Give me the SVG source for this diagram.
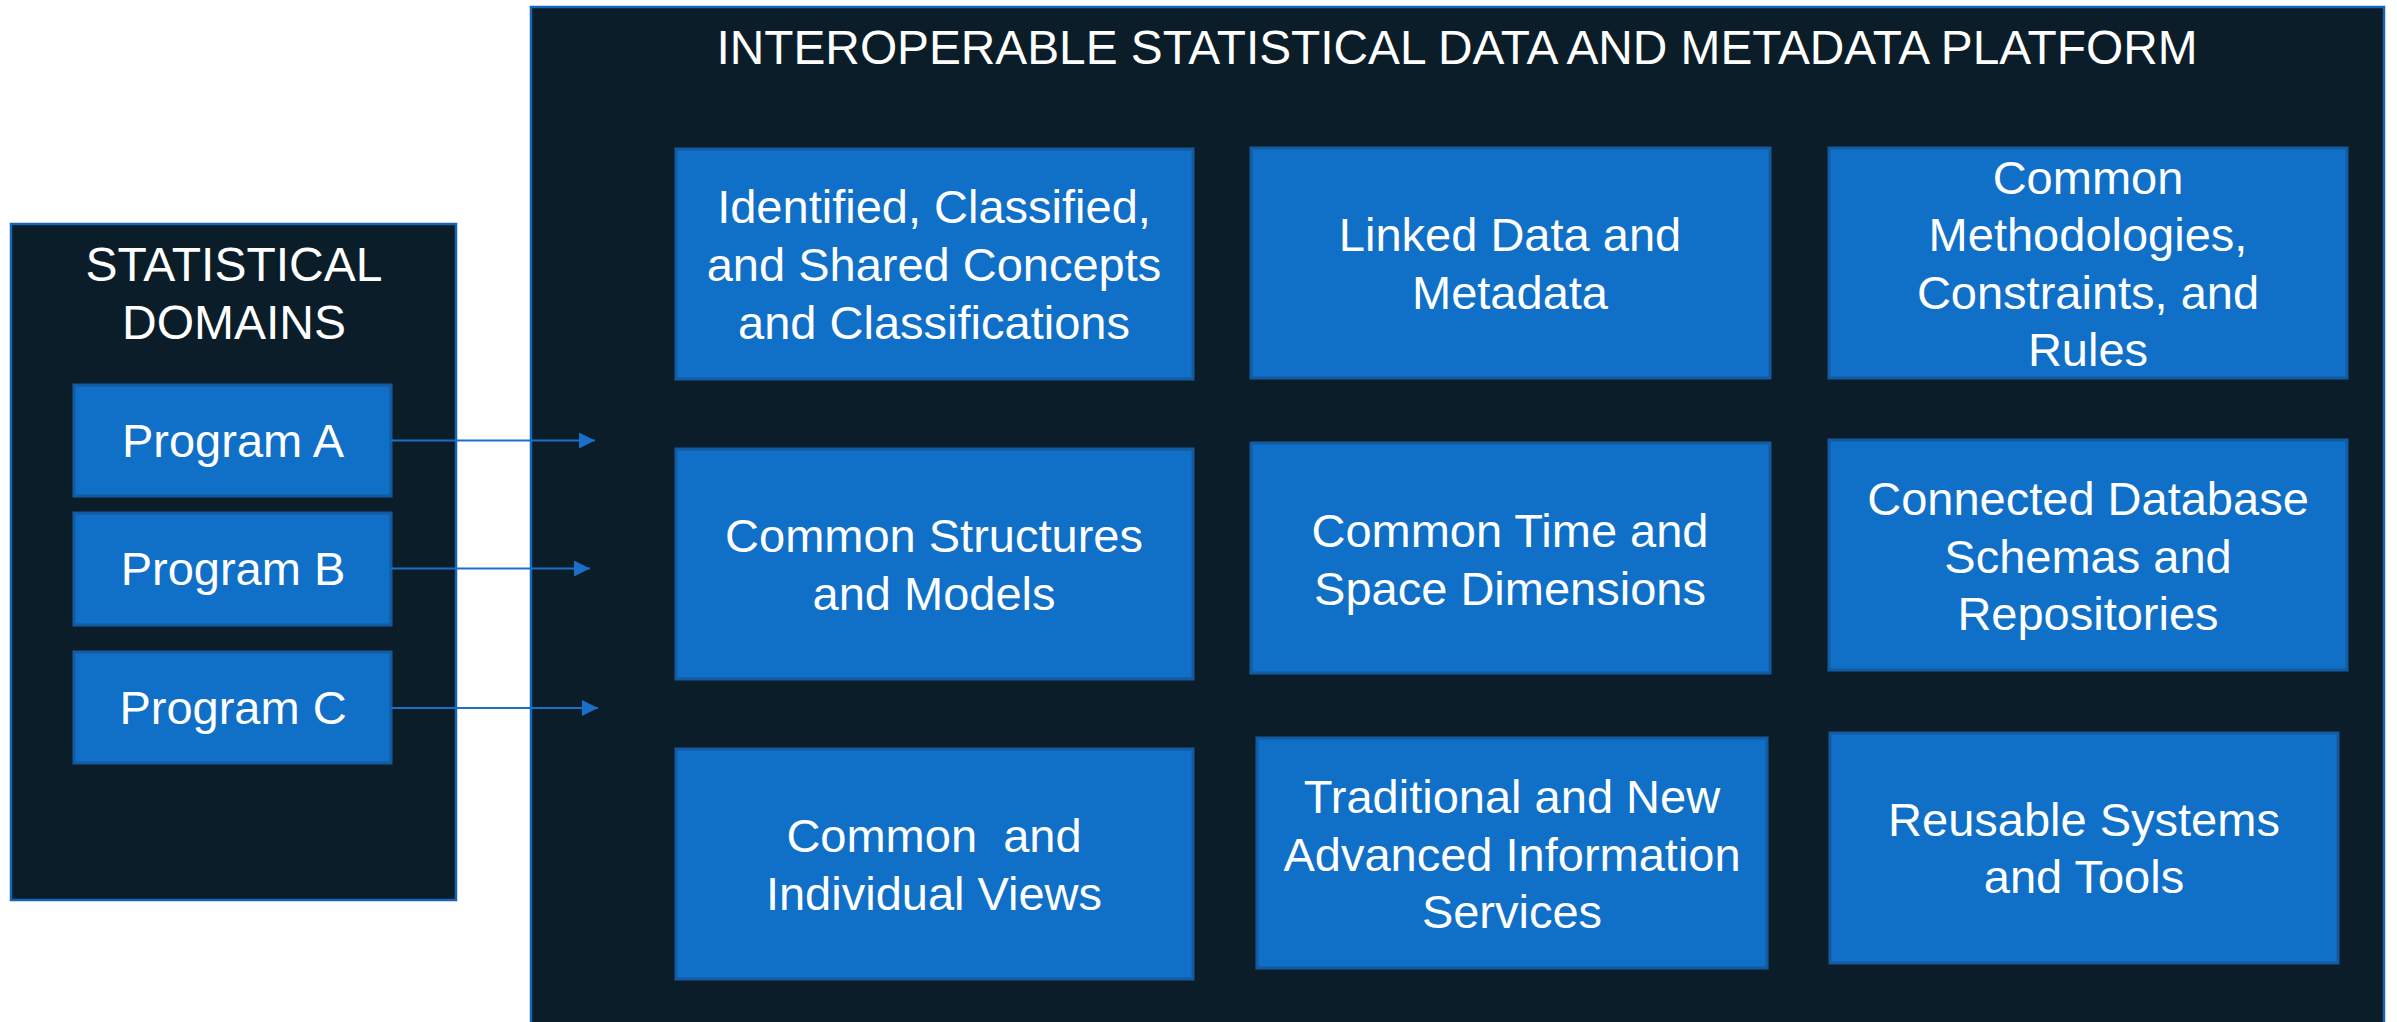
<svg xmlns="http://www.w3.org/2000/svg" width="2397" height="1022" viewBox="0 0 2397 1022">
<defs>
<style>
.frame{fill:#0a1d29;stroke:#1565b8;stroke-width:2.5}
.box{fill:#1070c8;stroke:#145aa0;stroke-width:3}
.t{font-family:"Liberation Sans",Arial,sans-serif;fill:#ffffff;text-anchor:middle}
.bt{font-size:47px}
.conn{stroke:#1a6fc8;stroke-width:2.2;fill:none}
</style>
<marker id="ah" viewBox="0 0 16 16" refX="16" refY="8" markerWidth="16" markerHeight="16" markerUnits="userSpaceOnUse" orient="auto">
<path d="M0,0 L16,8 L0,16 Z" fill="#1a6fc8"/>
</marker>
</defs>
<rect width="2397" height="1022" fill="#ffffff"/>
<g id="domains">
<rect class="frame" x="11" y="224" width="445" height="676"/>
<text class="t" x="234" y="281" font-size="48">STATISTICAL</text>
<text class="t" x="234" y="339" font-size="48">DOMAINS</text>
</g>
<g id="platform">
<rect class="frame" x="531" y="7" width="1853" height="1030"/>
<text class="t" x="1457" y="64" font-size="48" textLength="1481" lengthAdjust="spacingAndGlyphs">INTEROPERABLE STATISTICAL DATA AND METADATA PLATFORM</text>
</g>
<g id="programA">
<rect class="box" x="74" y="385" width="317" height="111"/>
<text class="t bt" x="233" y="457">Program A</text>
</g>
<g id="programB">
<rect class="box" x="74" y="513" width="317" height="112"/>
<text class="t bt" x="233" y="585">Program B</text>
</g>
<g id="programC">
<rect class="box" x="74" y="652" width="317" height="111"/>
<text class="t bt" x="233" y="724">Program C</text>
</g>
<g id="connectors">
<line class="conn" x1="391" y1="440.5" x2="595" y2="440.5" marker-end="url(#ah)"/>
<line class="conn" x1="391" y1="568.5" x2="590" y2="568.5" marker-end="url(#ah)"/>
<line class="conn" x1="391" y1="708" x2="598" y2="708" marker-end="url(#ah)"/>
</g>
<g id="concepts">
<rect class="box" x="676" y="149" width="517" height="230"/>
<text class="t bt" x="934" y="223">Identified, Classified,</text>
<text class="t bt" x="934" y="281">and Shared Concepts</text>
<text class="t bt" x="934" y="339">and Classifications</text>
</g>
<g id="linked">
<rect class="box" x="1251" y="148" width="519" height="230"/>
<text class="t bt" x="1510" y="251">Linked Data and</text>
<text class="t bt" x="1510" y="309">Metadata</text>
</g>
<g id="methodologies">
<rect class="box" x="1829" y="148" width="518" height="230"/>
<text class="t bt" x="2088" y="194">Common</text>
<text class="t bt" x="2088" y="251">Methodologies,</text>
<text class="t bt" x="2088" y="309">Constraints, and</text>
<text class="t bt" x="2088" y="366">Rules</text>
</g>
<g id="structures">
<rect class="box" x="676" y="449" width="517" height="230"/>
<text class="t bt" x="934" y="552">Common Structures</text>
<text class="t bt" x="934" y="610">and Models</text>
</g>
<g id="timespace">
<rect class="box" x="1251" y="443" width="519" height="230"/>
<text class="t bt" x="1510" y="547">Common Time and</text>
<text class="t bt" x="1510" y="605">Space Dimensions</text>
</g>
<g id="schemas">
<rect class="box" x="1829" y="440" width="518" height="230"/>
<text class="t bt" x="2088" y="515">Connected Database</text>
<text class="t bt" x="2088" y="573">Schemas and</text>
<text class="t bt" x="2088" y="630">Repositories</text>
</g>
<g id="views">
<rect class="box" x="676" y="749" width="517" height="230"/>
<text class="t bt" x="934" y="852" xml:space="preserve">Common  and</text>
<text class="t bt" x="934" y="910">Individual Views</text>
</g>
<g id="services">
<rect class="box" x="1257" y="738" width="510" height="230"/>
<text class="t bt" x="1512" y="813">Traditional and New</text>
<text class="t bt" x="1512" y="871">Advanced Information</text>
<text class="t bt" x="1512" y="928">Services</text>
</g>
<g id="reusable">
<rect class="box" x="1830" y="733" width="508" height="230"/>
<text class="t bt" x="2084" y="836">Reusable Systems</text>
<text class="t bt" x="2084" y="893">and Tools</text>
</g>
</svg>
